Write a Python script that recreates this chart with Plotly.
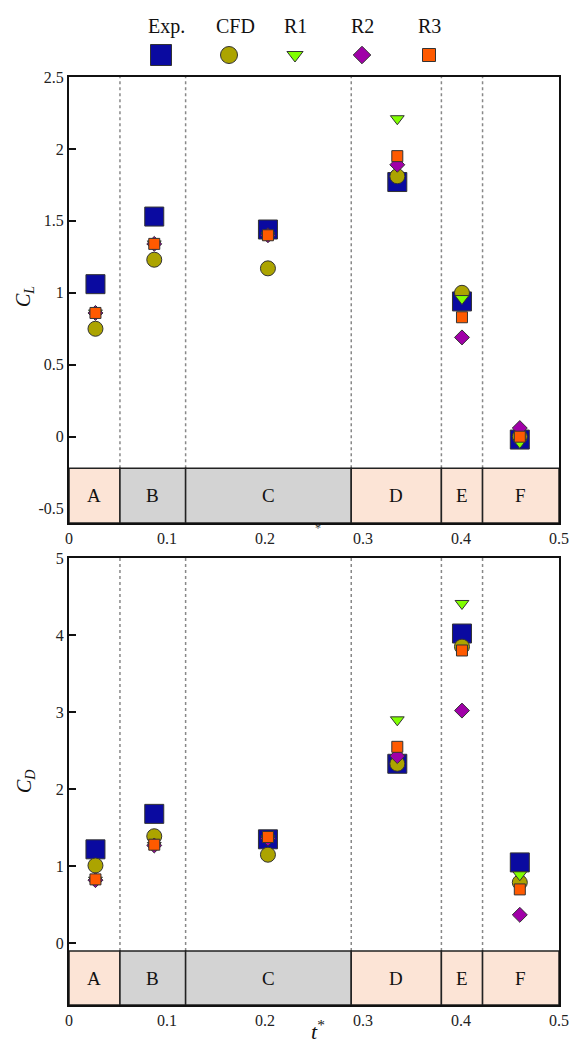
import plotly.graph_objects as go

# Time samples (non-dimensional) at which coefficients were evaluated
t_star = [0.027, 0.087, 0.203, 0.335, 0.401, 0.460]

# Lift coefficient
cl_exp = [1.06, 1.53, 1.44, 1.77, 0.94, -0.02]
cl_cfd = [0.75, 1.23, 1.17, 1.81, 1.00, 0.00]
cl_r1 = [0.86, 1.34, 1.40, 2.21, 0.96, -0.04]
cl_r2 = [0.86, 1.34, 1.40, 1.89, 0.69, 0.06]
cl_r3 = [0.86, 1.34, 1.40, 1.95, 0.83, 0.00]

# Drag coefficient
cd_exp = [1.22, 1.68, 1.35, 2.33, 4.02, 1.05]
cd_cfd = [1.01, 1.39, 1.15, 2.33, 3.85, 0.79]
cd_r1 = [0.82, 1.27, 1.36, 2.90, 4.41, 0.89]
cd_r2 = [0.82, 1.27, 1.36, 2.43, 3.02, 0.37]
cd_r3 = [0.83, 1.28, 1.38, 2.55, 3.80, 0.70]

# Phase boundaries and labels
phase_edges = [0.0, 0.052, 0.119, 0.288, 0.380, 0.422, 0.5]
phase_labels = ["A", "B", "C", "D", "E", "F"]
phase_kind = ["p", "g", "g", "p", "p", "p"]

series_names = ["Exp.", "CFD", "R1", "R2", "R3"]

FONT = "Liberation Serif"
PEACH = "#FCE4D6"
GREY = "#D3D3D3"

styles = {
    "Exp.": dict(symbol="square", size=19, color="#0A0AA0"),
    "CFD": dict(symbol="circle", size=15, color="#ACA400"),
    "R1": dict(symbol="triangle-down", size=12, color="#80FF00"),
    "R2": dict(symbol="diamond", size=11.5, color="#A000A8"),
    "R3": dict(symbol="square", size=11, color="#FF5A00"),
}

W, H = 575, 1046
LEG_H = 77  # height of the key strip at the top, px


def px_x(p):
    return p / W


def px_y(p):
    return 1 - p / H


fig = go.Figure()

panels = [
    dict(xa="x", ya="y", data=[cl_exp, cl_cfd, cl_r1, cl_r2, cl_r3],
         yr=[-0.6, 2.5], band_top=-0.22),
    dict(xa="x2", ya="y2", data=[cd_exp, cd_cfd, cd_r1, cd_r2, cd_r3],
         yr=[-0.8, 5.0], band_top=-0.1),
]

shapes = []
annotations = []

for pnl in panels:
    for name, vals in zip(series_names, pnl["data"]):
        st = styles[name]
        fig.add_trace(go.Scatter(
            x=t_star, y=vals, mode="markers", name=name, showlegend=False,
            xaxis=pnl["xa"], yaxis=pnl["ya"],
            marker=dict(symbol=st["symbol"], size=st["size"], color=st["color"],
                        line=dict(color="#333333", width=1)),
            hoverinfo="skip",
        ))
    y0, y1 = pnl["yr"]
    bt = pnl["band_top"]
    for i, lab in enumerate(phase_labels):
        a, b = phase_edges[i], phase_edges[i + 1]
        shapes.append(dict(
            type="rect", xref=pnl["xa"], yref=pnl["ya"], x0=a, x1=b, y0=y0, y1=bt,
            fillcolor=PEACH if phase_kind[i] == "p" else GREY,
            line=dict(color="#222222", width=1.5), layer="above",
        ))
        annotations.append(dict(
            x=(a + b) / 2, y=(y0 + bt) / 2, xref=pnl["xa"], yref=pnl["ya"],
            text=lab, showarrow=False, font=dict(family=FONT, size=19, color="#111111"),
        ))
    for e in phase_edges[1:-1]:
        shapes.append(dict(
            type="line", xref=pnl["xa"], yref=pnl["ya"], x0=e, x1=e, y0=bt, y1=y1,
            line=dict(color="#888888", width=1.5, dash="dot"), layer="below",
        ))

# Legend keys: labels above symbols, placed on a strip axis in pixel units
leg_x_text = [166, 235, 295, 362, 429]
leg_x_mark = [161, 229, 295, 362, 429]
for name, xt, xm in zip(series_names, leg_x_text, leg_x_mark):
    st = styles[name]
    fig.add_trace(go.Scatter(
        x=[xm], y=[55], mode="markers", showlegend=False, xaxis="x3", yaxis="y3",
        marker=dict(symbol=st["symbol"], size=st["size"] + 2, color=st["color"],
                    line=dict(color="#333333", width=1)),
        hoverinfo="skip",
    ))
    annotations.append(dict(
        x=xt, y=26, xref="x3", yref="y3", text=name, showarrow=False,
        font=dict(family=FONT, size=20, color="#111111"),
    ))

# Axis titles
annotations.append(dict(x=px_x(25), y=px_y(297), xref="paper", yref="paper",
                        xanchor="center", yanchor="middle",
                        text="<i>C<sub>L</sub></i>", textangle=-90, showarrow=False,
                        font=dict(family=FONT, size=20, color="#111111")))
annotations.append(dict(x=px_x(25), y=px_y(782), xref="paper", yref="paper",
                        xanchor="center", yanchor="middle",
                        text="<i>C<sub>D</sub></i>", textangle=-90, showarrow=False,
                        font=dict(family=FONT, size=20, color="#111111")))
annotations.append(dict(x=px_x(318), y=px_y(1030), xref="paper", yref="paper",
                        xanchor="center", yanchor="middle",
                        text="<i>t</i><sup>*</sup>", showarrow=False,
                        font=dict(family=FONT, size=22, color="#111111")))
annotations.append(dict(x=px_x(318), y=px_y(528), xref="paper", yref="paper",
                        xanchor="center", yanchor="middle",
                        text="*", showarrow=False,
                        font=dict(family=FONT, size=12, color="#333333")))

xdom = [px_x(69), px_x(559)]
axis_common = dict(showgrid=False, zeroline=False, showline=True, linecolor="#111111",
                   linewidth=2, mirror=True, automargin=False,
                   tickfont=dict(family=FONT, size=16, color="#222222"))

xt_vals = [0, 0.1, 0.2, 0.3, 0.4, 0.5]
xt_text = ["0", "0.1", "0.2", "0.3", "0.4", "0.5"]

cl_ticks = [-0.5, 0, 0.5, 1, 1.5, 2, 2.5]
cl_text = ["-0.5", "0", "0.5", "1", "1.5", "2", "2.5"]
cd_ticks = [0, 1, 2, 3, 4, 5]
cd_text = ["0", "1", "2", "3", "4", "5"]

fig.update_layout(
    template="none",
    width=W, height=H, margin=dict(l=0, r=0, t=0, b=0, autoexpand=False),
    font=dict(family=FONT, size=16, color="#111111"),
    paper_bgcolor="white", plot_bgcolor="rgba(0,0,0,0)",
    xaxis=dict(domain=xdom, anchor="y", range=[0, 0.5], tickvals=xt_vals, ticktext=xt_text,
               ticks="", **axis_common),
    yaxis=dict(domain=[px_y(523), px_y(77)], anchor="x", range=[-0.6, 2.5],
               tickvals=cl_ticks, ticktext=cl_text, ticks="inside", ticklen=7, tickwidth=2,
               tickcolor="#111111", **axis_common),
    xaxis2=dict(domain=xdom, anchor="y2", range=[0, 0.5], tickvals=xt_vals, ticktext=xt_text,
                ticks="", **axis_common),
    yaxis2=dict(domain=[px_y(1005), px_y(558)], anchor="x2", range=[-0.8, 5.0],
                tickvals=cd_ticks, ticktext=cd_text, ticks="inside", ticklen=7, tickwidth=2,
                tickcolor="#111111", **axis_common),
    xaxis3=dict(domain=[0, 1], anchor="y3", range=[0, W], visible=False, fixedrange=True),
    yaxis3=dict(domain=[px_y(LEG_H), 1], anchor="x3", range=[LEG_H, 0], visible=False,
                fixedrange=True),
    shapes=shapes, annotations=annotations, showlegend=False,
)

fig.write_html("out.html")
